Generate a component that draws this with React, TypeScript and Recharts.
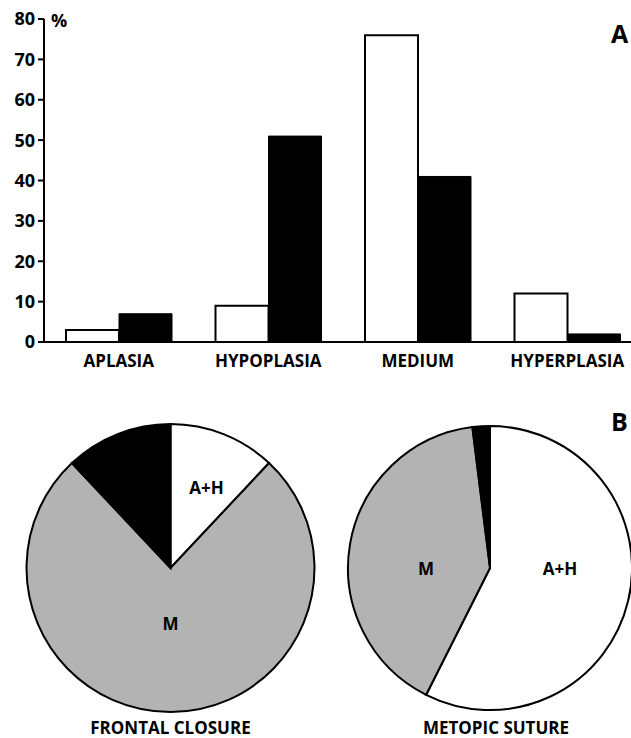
import { Bar, BarChart, Cell, Pie, PieChart, XAxis, YAxis } from "recharts";

const categories = ["APLASIA", "HYPOPLASIA", "MEDIUM", "HYPERPLASIA"];
const frontalClosure = [3, 9, 76, 12];
const metopicSuture = [7, 51, 41, 2];
const yTicks = [0, 10, 20, 30, 40, 50, 60, 70, 80];

const sliceNames = ["A+H", "M", "H"];
const frontalSlices = [12, 76, 12];
const metopicSlices = [58, 41, 2];
const sliceColors = ["#ffffff", "#b3b3b3", "#000000"];

const FONT = "'Open Sans', sans-serif";

const barData = categories.map((name, i) => ({
  name,
  frontal: frontalClosure[i],
  metopic: metopicSuture[i],
}));

const toSlices = (values: number[]) =>
  values.map((value, i) => ({ name: sliceNames[i], value }));

// label offsets from the pie centre; the black slice has no label
const frontalLabelOffsets = [[36, -81], [0, 55], null];
const metopicLabelOffsets = [[70, 0], [-64, 0], null];

function sliceLabel(offsets: (number[] | null)[]) {
  return (props: any) => {
    const off = offsets[props.index];
    if (!off) return null;
    return (
      <text
        x={props.cx + off[0]}
        y={props.cy + off[1]}
        textAnchor="middle"
        dominantBaseline="central"
        fontFamily={FONT}
        fontWeight={700}
        fontSize={17}
        fill="#000"
      >
        {props.name}
      </text>
    );
  };
}

export default function App() {
  return (
    <div
      style={{
        position: "absolute",
        left: 0,
        top: 0,
        width: 631,
        height: 738,
        overflow: "hidden",
        background: "#fff",
      }}
    >
      <div style={{ position: "absolute", left: 0, top: 0 }}>
        <BarChart
          width={660}
          height={380}
          data={barData}
          margin={{ top: 19, right: 18, left: 0, bottom: 0 }}
          barGap={0}
          barSize={53}
        >
          <XAxis
            dataKey="name"
            height={38}
            axisLine={{ stroke: "#000", strokeWidth: 2 }}
            tickLine={false}
            tickSize={6}
            tickMargin={7}
            interval={0}
            tick={{ fill: "#000", fontFamily: FONT, fontWeight: 700, fontSize: 17 }}
          />
          <YAxis
            width={44}
            domain={[0, 80]}
            ticks={yTicks}
            interval={0}
            axisLine={{ stroke: "#000", strokeWidth: 2 }}
            tickLine={{ stroke: "#000", strokeWidth: 2 }}
            tickSize={6}
            tickMargin={3}
            tick={{ fill: "#000", fontFamily: FONT, fontWeight: 700, fontSize: 18 }}
          />
          <Bar dataKey="frontal" fill="#fff" stroke="#000" strokeWidth={2} isAnimationActive={false} />
          <Bar dataKey="metopic" fill="#000" stroke="#000" strokeWidth={1} isAnimationActive={false} />
        </BarChart>
      </div>

      <div style={{ position: "absolute", left: 0, top: 380 }}>
        <PieChart width={631} height={358} margin={{ top: 0, right: 0, bottom: 0, left: 0 }}>
          <Pie
            data={toSlices(frontalSlices)}
            dataKey="value"
            cx={170.5}
            cy={188}
            outerRadius={144}
            startAngle={90}
            endAngle={-270}
            stroke="#000"
            strokeWidth={2}
            label={sliceLabel(frontalLabelOffsets)}
            labelLine={false}
            isAnimationActive={false}
          >
            {frontalSlices.map((_, i) => (
              <Cell key={i} fill={sliceColors[i]} />
            ))}
          </Pie>
          <Pie
            data={toSlices(metopicSlices)}
            dataKey="value"
            cx={490}
            cy={188}
            outerRadius={142}
            startAngle={90}
            endAngle={-270}
            stroke="#000"
            strokeWidth={2}
            label={sliceLabel(metopicLabelOffsets)}
            labelLine={false}
            isAnimationActive={false}
          >
            {metopicSlices.map((_, i) => (
              <Cell key={i} fill={sliceColors[i]} />
            ))}
          </Pie>
        </PieChart>
      </div>

      <svg
        width={631}
        height={738}
        style={{ position: "absolute", left: 0, top: 0, pointerEvents: "none" }}
        fontFamily={FONT}
        fontWeight={700}
        fill="#000"
      >
        <text x={51} y={27} fontSize={18}>%</text>
        <text x={611} y={43} fontSize={25}>A</text>
        <text x={611} y={431} fontSize={25}>B</text>
        <text x={170.5} y={734} fontSize={17} textAnchor="middle">FRONTAL CLOSURE</text>
        <text x={496} y={734} fontSize={17} textAnchor="middle">METOPIC SUTURE</text>
      </svg>
    </div>
  );
}
